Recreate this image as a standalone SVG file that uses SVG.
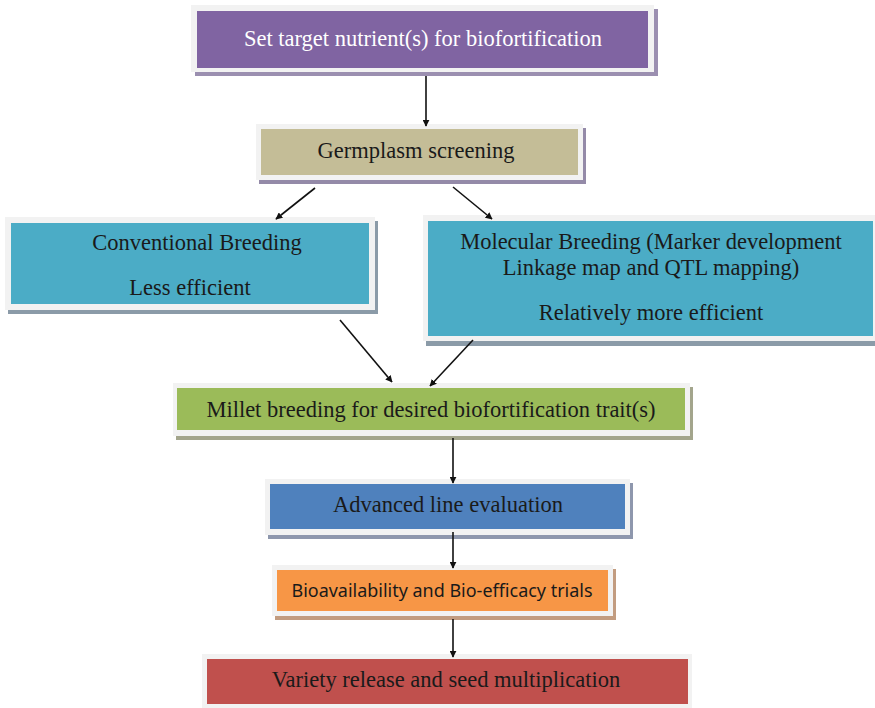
<svg xmlns="http://www.w3.org/2000/svg" width="875" height="708" viewBox="0 0 875 708">
<defs>
<style>
.frame{fill:#f2f2f2}
.t{font-family:"Liberation Serif","Times New Roman",serif;font-size:22.5px;fill:#1a1a1a;text-anchor:middle}
.ts{font-family:"Noto Sans","Liberation Sans",sans-serif;font-size:18.5px;fill:#1a1a1a;text-anchor:middle}
.c line{stroke:#111;stroke-width:1.6;marker-end:url(#ah)}
</style>
<marker id="ah" viewBox="0 0 10 10" refX="9" refY="5" markerWidth="7" markerHeight="7" orient="auto" markerUnits="userSpaceOnUse">
<path d="M0,0 L10,5 L0,10 z" fill="#111"/>
</marker>
</defs>
<rect width="875" height="708" fill="#fff"/>

<g id="n1">
<rect x="195" y="9" width="463" height="67" fill="#9b8fb0"/>
<rect class="frame" x="191" y="5" width="463" height="67"/>
<rect x="197" y="11" width="451" height="57" fill="#8064a2"/>
<text class="t" x="423" y="46" style="fill:#fff">Set target nutrient(s) for biofortification</text>
</g>

<g id="n2">
<rect x="259" y="128" width="327" height="56" fill="#948aa8"/>
<rect class="frame" x="256" y="124" width="327" height="56"/>
<rect x="261" y="129" width="317" height="46" fill="#c4bd97"/>
<text class="t" x="416" y="158">Germplasm screening</text>
</g>

<g id="n3">
<rect x="8" y="221" width="370" height="93" fill="#8b9ba8"/>
<rect class="frame" x="5" y="217" width="370" height="93"/>
<rect x="11" y="223" width="358" height="81" fill="#4bacc6"/>
<text class="t" x="197" y="250">Conventional Breeding</text>
<text class="t" x="190" y="295">Less efficient</text>
</g>

<g id="n4">
<rect x="426" y="219" width="452" height="127" fill="#8b9ba8"/>
<rect class="frame" x="423" y="215" width="452" height="126"/>
<rect x="428" y="221" width="445" height="115" fill="#4bacc6"/>
<text class="t" x="651" y="249">Molecular Breeding (Marker development</text>
<text class="t" x="651" y="275">Linkage map and QTL mapping)</text>
<text class="t" x="651" y="320">Relatively more efficient</text>
</g>

<g id="n5">
<rect x="176" y="387" width="517" height="53" fill="#a3a58c"/>
<rect class="frame" x="173" y="383" width="517" height="53"/>
<rect x="177" y="388" width="508" height="42" fill="#9bbb59"/>
<text class="t" x="431" y="417">Millet breeding for desired biofortification trait(s)</text>
</g>

<g id="n6">
<rect x="268" y="483" width="365" height="56" fill="#8e97ad"/>
<rect class="frame" x="265" y="479" width="365" height="56"/>
<rect x="270" y="484" width="355" height="45" fill="#4f81bd"/>
<text class="t" x="448" y="512">Advanced line evaluation</text>
</g>

<g id="n7">
<rect x="275" y="569" width="341" height="51" fill="#c29c80"/>
<rect class="frame" x="272" y="565" width="341" height="51"/>
<rect x="277" y="570" width="331" height="41" fill="#f79646"/>
<text class="ts" x="442" y="597" textLength="301" lengthAdjust="spacingAndGlyphs">Bioavailability and Bio-efficacy trials</text>
</g>

<g id="n8">
<rect class="frame" x="202" y="654" width="490" height="54"/>
<rect x="207" y="659" width="481" height="45" fill="#c0504d"/>
<text class="t" x="446" y="687">Variety release and seed multiplication</text>
</g>

<g id="connectors" class="c">
<line x1="426" y1="76" x2="426" y2="126"/>
<line x1="315" y1="188" x2="276" y2="219"/>
<line x1="453" y1="187" x2="492" y2="219"/>
<line x1="340" y1="320" x2="392" y2="382"/>
<line x1="473" y1="340" x2="430" y2="386"/>
<line x1="453" y1="438" x2="453" y2="483"/>
<line x1="453" y1="532" x2="453" y2="568"/>
<line x1="453" y1="619" x2="453" y2="657"/>
</g>
</svg>
